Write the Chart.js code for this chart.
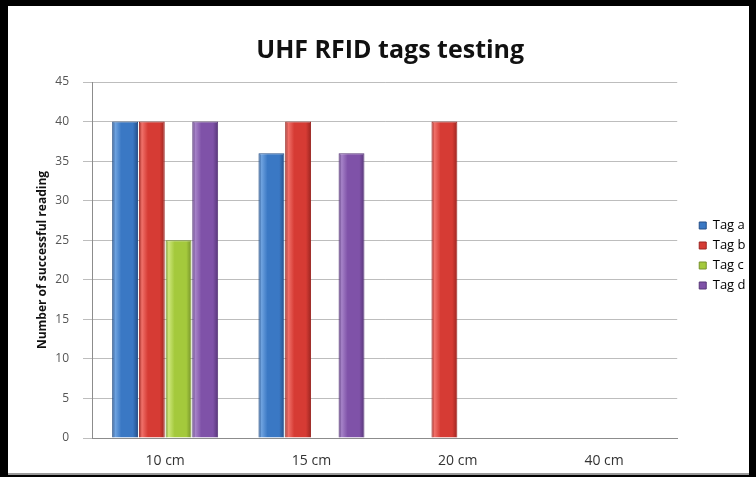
<!DOCTYPE html>
<html>
<head>
<meta charset="utf-8">
<title>UHF RFID tags testing</title>
<script src="https://cdn.jsdelivr.net/npm/chart.js@4.4.1/dist/chart.umd.min.js"></script>
<style>
  html, body { margin: 0; padding: 0; background: #000; }
  #frame {
    position: absolute; left: 8px; top: 6px;
    width: 741px; height: 469px;
    background: #fff;
    box-sizing: border-box;
    border-bottom: 2px solid #9a9a9a;
  }
  canvas { display: block; }
</style>
</head>
<body>
<div id="frame">
  <canvas id="rfidChart" width="741" height="467"></canvas>
</div>
<script>
// chart data
const distances = ["10 cm", "15 cm", "20 cm", "40 cm"];
const tagNames = ["Tag a", "Tag b", "Tag c", "Tag d"];
const tagA = [40, 36, 0, 0];
const tagB = [40, 40, 40, 0];
const tagC = [25, 0, 0, 0];
const tagD = [40, 36, 0, 0];
const yTicks = [0, 5, 10, 15, 20, 25, 30, 35, 40, 45];

// base / light / dark shades for each tag
const palette = [
  { base: "#3a78c4", light: "#6fa3e0", dark: "#244f88" },
  { base: "#d63b34", light: "#f0716a", dark: "#9c2520" },
  { base: "#a4c93c", light: "#cce67a", dark: "#76922a" },
  { base: "#7f52a8", light: "#a683c8", dark: "#573678" }
];

const font = "'Open Sans', 'Noto Sans', sans-serif";

// cylinder-like shading across each bar, made from the bar element itself
function barFill(ctx) {
  const c = palette[ctx.datasetIndex];
  const el = ctx.element;
  if (!el || el.x === undefined || isNaN(el.x)) return c.base;
  const half = el.width / 2;
  const g = ctx.chart.ctx.createLinearGradient(el.x - half, 0, el.x + half, 0);
  g.addColorStop(0, c.dark);
  g.addColorStop(0.12, c.light);
  g.addColorStop(0.35, c.base);
  g.addColorStop(0.8, c.base);
  g.addColorStop(1, c.dark);
  return g;
}

function makeDataset(i, values) {
  return {
    label: tagNames[i],
    data: values,
    backgroundColor: barFill,
    borderColor: palette[i].dark,
    borderWidth: ctx => (ctx.raw ? 1 : 0),
    borderSkipped: "start",
    inflateAmount: 0,
    categoryPercentage: 0.73,
    barPercentage: 0.97
  };
}

// legend sits a bit further from the plot and lower than default
const legendNudge = {
  id: "legendNudge",
  afterLayout(chart) {
    const lg = chart.legend;
    lg.left += 15;
    lg.right += 15;
    lg.top += 16;
    lg.bottom += 16;
  }
};

const rfidChart = new Chart(document.getElementById("rfidChart"), {
  type: "bar",
  data: {
    labels: distances,
    datasets: [
      makeDataset(0, tagA),
      makeDataset(1, tagB),
      makeDataset(2, tagC),
      makeDataset(3, tagD)
    ]
  },
  plugins: [legendNudge],
  options: {
    responsive: false,
    animation: false,
    devicePixelRatio: 1,
    layout: { padding: { top: 0, right: 8.5, bottom: 0, left: 32 } },
    plugins: {
      title: {
        display: true,
        text: "UHF RFID tags testing",
        color: "#111",
        font: { family: font, size: 25, weight: "bold" },
        padding: { top: 30, bottom: 16 }
      },
      legend: {
        display: true,
        position: "right",
        labels: {
          color: "#333",
          font: { family: font, size: 13 },
          boxWidth: 7,
          boxHeight: 7,
          padding: 7,
          generateLabels: chart => chart.data.datasets.map((ds, i) => ({
            text: ds.label,
            fillStyle: palette[i].base,
            strokeStyle: palette[i].dark,
            lineWidth: 1,
            datasetIndex: i
          }))
        }
      },
      tooltip: { enabled: false }
    },
    scales: {
      x: {
        grid: { display: false, drawTicks: false },
        border: { display: true, color: "#8c8c8c", width: 1 },
        ticks: {
          color: "#333",
          font: { family: font, size: 14 },
          padding: 15
        },
        afterFit: scale => { scale.height = 35; }
      },
      y: {
        min: 0,
        max: 45,
        afterBuildTicks: scale => {
          scale.ticks = yTicks.map(v => ({ value: v }));
        },
        grid: { color: "#bdbdbd", lineWidth: 1, tickLength: 9 },
        border: { display: true, color: "#8c8c8c", width: 1 },
        ticks: {
          color: "#555",
          font: { family: font, size: 12 },
          padding: 14
        },
        title: {
          display: true,
          text: "Number of successful reading",
          color: "#111",
          font: { family: font, size: 12, weight: "bold" },
          padding: { top: -5, bottom: 0 }
        },
        afterFit: scale => { scale.width = 52; }
      }
    }
  }
});

// second pass so the gradients can use the laid-out bar geometry
rfidChart.update();
</script>
</body>
</html>
